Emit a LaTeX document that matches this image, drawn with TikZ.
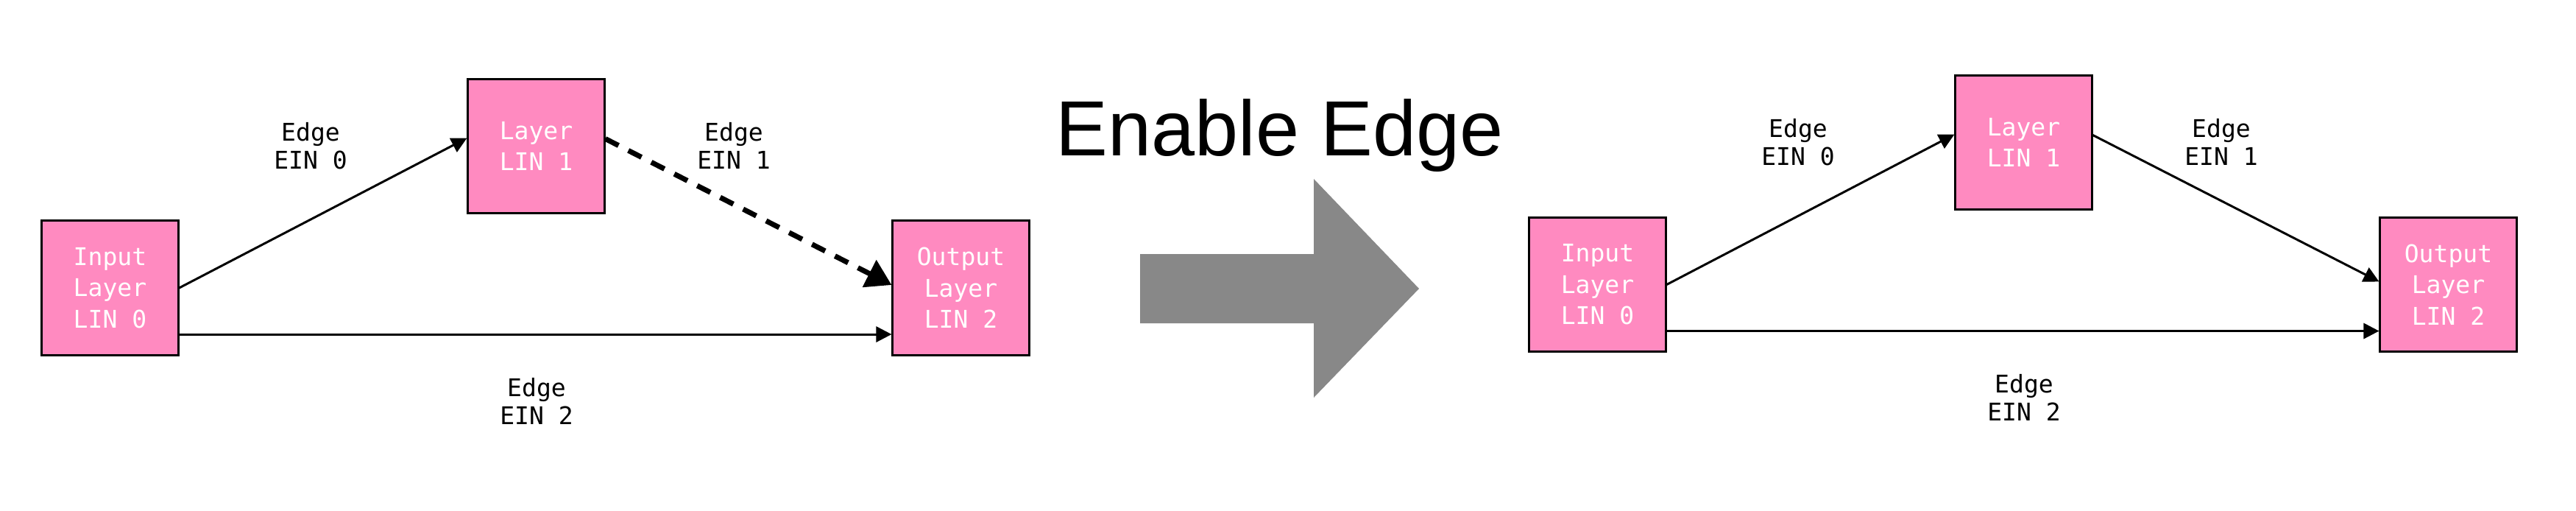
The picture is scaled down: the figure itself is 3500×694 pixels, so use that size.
\documentclass[tikz,border=0pt]{standalone}
\usepackage{fontspec}
\setmainfont{Liberation Sans}
\setmonofont{DejaVu Sans Mono}
\definecolor{layerpink}{RGB}{255,138,192}
\definecolor{arrowgray}{RGB}{136,136,136}
\usetikzlibrary{arrows.meta}

\begin{document}
\begin{tikzpicture}[
    x=0.01cm, y=-0.01cm,
    layer/.style={fill=layerpink, draw=black, line width=0.85pt,
      minimum width=1.85cm, minimum height=1.82cm, inner sep=0pt,
      align=center, text=white, font=\ttfamily\fontsize{9.4}{12.1}\selectfont},
    edgelabel/.style={align=center, font=\ttfamily\fontsize{9.4}{10.8}\selectfont},
    link/.style={line width=0.85pt, -{Triangle[length=0.21cm, width=0.21cm]}},
    pending/.style={line width=0.07cm, dash pattern=on 0.2cm off 0.15cm,
      -{Triangle[length=0.34cm, width=0.4cm]}},
  ]
    \useasboundingbox (0,0) rectangle (3500,694);

    \node[layer] (in0) at (149.5,391) {Input\\Layer\\LIN 0};
    \node[layer] (lin1) at (728.5,198.5) {Layer\\LIN 1};
    \node[layer] (out2) at (1305.5,391) {Output\\Layer\\LIN 2};
    \node[edgelabel] (ein0) at (422,198) {Edge\\EIN 0};
    \node[edgelabel] (ein1) at (997,198) {Edge\\EIN 1};
    \node[edgelabel] (ein2) at (729,545) {Edge\\EIN 2};
    \draw[link] (in0.east) -- ([yshift=0.11cm]lin1.west);
    \draw[pending] ([yshift=0.1cm]lin1.east) -- ([yshift=0.04cm]out2.west);
    \draw[link] ([yshift=-0.63cm]in0.east) -- ([yshift=-0.63cm]out2.west);

    \node[anchor=base, font=\fontsize{30.2}{36}\selectfont] (title) at (1739,211) {Enable Edge};
    \fill[arrowgray] (1549,345) -- (1785,345) -- (1785,243) -- (1928,392)
      -- (1785,540) -- (1785,439) -- (1549,439) -- cycle;

    \node[layer] (in0b) at (2170.5,386.5) {Input\\Layer\\LIN 0};
    \node[layer] (lin1b) at (2749.5,193.5) {Layer\\LIN 1};
    \node[layer] (out2b) at (3326.5,386.5) {Output\\Layer\\LIN 2};
    \node[edgelabel] (ein0b) at (2443,193) {Edge\\EIN 0};
    \node[edgelabel] (ein1b) at (3018,193) {Edge\\EIN 1};
    \node[edgelabel] (ein2b) at (2750,540) {Edge\\EIN 2};
    \draw[link] (in0b.east) -- ([yshift=0.11cm]lin1b.west);
    \draw[link] ([yshift=0.1cm]lin1b.east) -- ([yshift=0.04cm]out2b.west);
    \draw[link] ([yshift=-0.63cm]in0b.east) -- ([yshift=-0.63cm]out2b.west);
  \end{tikzpicture}
\end{document}
